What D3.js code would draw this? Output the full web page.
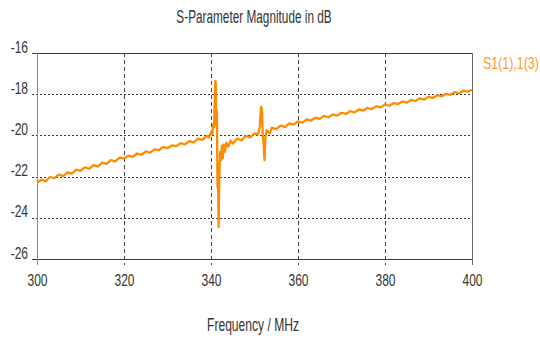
<!DOCTYPE html>
<html>
<head>
<meta charset="utf-8">
<script src="https://cdn.jsdelivr.net/npm/d3@7"></script>
<style>
  html, body { margin: 0; padding: 0; background: #fff; }
  svg { display: block; font-family: "Liberation Sans", Arial, sans-serif; }
</style>
</head>
<body>
<div id="graph"></div>
<script>
// values
var freqs = [300,301,302,303,304,305,306,307,308,309,310,311,312,313,314,315,316,317,318,319,
  320,321,322,323,324,325,326,327,328,329,330,331,332,333,334,335,336,337,338,339,339.5,
  340,340.3,340.5,340.7,340.9,341.0,341.1,341.2,341.35,341.5,341.6,341.75,341.9,342.1,342.3,342.5,342.7,342.9,
  343.2,343.5,344,344.5,345,346,347,348,349,350,350.8,351.2,351.5,351.7,351.9,352.1,352.3,352.5,352.8,
  353.5,354,355,356,357,358,359,360,361,362,363,364,365,366,367,368,369,370,
  371,372,373,374,375,376,377,378,379,380,381,382,383,384,385,386,387,388,389,390,
  391,392,393,394,395,396,397,398,399,400]
var s11 = [-22.30,-22.15,-22.22,-22.02,-22.08,-21.90,-21.98,-21.80,-21.86,-21.66,-21.72,-21.55,-21.62,-21.44,-21.50,-21.32,-21.38,-21.20,-21.26,-21.08,
  -21.12,-20.98,-21.04,-20.88,-20.94,-20.78,-20.84,-20.68,-20.72,-20.56,-20.62,-20.48,-20.52,-20.38,-20.44,-20.28,-20.34,-20.16,-20.22,-20.02,-20.10,
  -19.85,-19.95,-19.45,-19.60,-18.00,-17.35,-17.50,-19.50,-18.80,-22.50,-21.80,-24.45,-22.00,-20.80,-21.20,-20.50,-21.10,-20.45,
  -20.80,-20.35,-20.55,-20.25,-20.40,-20.15,-20.25,-20.02,-20.10,-19.90,-19.95,-19.60,-18.60,-18.75,-20.00,-20.40,-21.20,-20.10,-19.75,
  -19.90,-19.62,-19.70,-19.52,-19.60,-19.42,-19.48,-19.32,-19.38,-19.22,-19.28,-19.14,-19.20,-19.05,-19.12,-18.98,-19.04,-18.90,
  -18.96,-18.82,-18.88,-18.74,-18.80,-18.66,-18.72,-18.58,-18.64,-18.50,-18.56,-18.43,-18.48,-18.35,-18.41,-18.28,-18.33,-18.20,-18.26,-18.13,
  -18.18,-18.05,-18.11,-17.98,-18.03,-17.90,-17.96,-17.83,-17.88,-17.78]
var xTicks = [300,320,340,360,380,400]
var yTicks = [-16,-18,-20,-22,-24,-26]
var seriesName = "S1(1),1(3)"

var w = 540, h = 338
var pl = 37, pr = 472, pt = 53, pb = 259

var x = d3.scaleLinear().domain([300, 400]).range([pl, pr])
var y = d3.scaleLinear().domain([-26, -16]).range([pb, pt])

var svg = d3.select('#graph')
  .append('svg')
  .attr("width", w)
  .attr("height", h)

// text in the reference is tall and narrow, so stretch it vertically
function label(g, tx, ty, str, anchor, sy, size, color) {
  return g.append("text")
    .attr("transform", "translate(" + tx + "," + ty + ") scale(1," + sy + ")")
    .attr("text-anchor", anchor)
    .style("font-size", size + "px")
    .style("fill", color)
    .text(str)
}

// horizontal dotted grid
svg.append("g").selectAll("line")
  .data(yTicks.filter(d => d != -16 && d != -26))
  .enter().append("line")
  .attr("x1", pl - 5).attr("x2", pr)
  .attr("y1", d => Math.round(y(d)) + .5).attr("y2", d => Math.round(y(d)) + .5)
  .style("stroke", "#333")
  .style("stroke-dasharray", "2,2")

// vertical dashed grid
svg.append("g").selectAll("line")
  .data(xTicks.filter(d => d != 300 && d != 400))
  .enter().append("line")
  .attr("x1", d => Math.round(x(d)) + .5).attr("x2", d => Math.round(x(d)) + .5)
  .attr("y1", pt).attr("y2", pb + 6)
  .style("stroke", "#444")
  .style("stroke-dasharray", "4,3")

// frame
svg.append("line").attr("x1", pl - 5).attr("x2", pr + 1).attr("y1", pt + .5).attr("y2", pt + .5)
  .style("stroke", "#3a3a3a")
svg.append("line").attr("x1", pl - 5).attr("x2", pr + 1).attr("y1", pb + .5).attr("y2", pb + .5)
  .style("stroke", "#3a3a3a")
svg.append("line").attr("x1", pl + .5).attr("x2", pl + .5).attr("y1", pt).attr("y2", pb + 6)
  .style("stroke", "#8a8a8a")
svg.append("line").attr("x1", pr + .5).attr("x2", pr + .5).attr("y1", pt).attr("y2", pb + 6)
  .style("stroke", "#6a6a6a")

// data line
var line = d3.line()
  .x((d, i) => x(freqs[i]))
  .y(d => y(d))

svg.append("path")
  .datum(s11)
  .attr("d", line)
  .style("fill", "none")
  .style("stroke", "#ff8c00")
  .style("stroke-width", 2.3)
  .style("stroke-linejoin", "round")

// tick labels
var yl = svg.append("g")
yTicks.forEach(d => label(yl, 28, y(d) - 0.5, d, "end", 1.3, 12, "#333"))
var xl = svg.append("g")
xTicks.forEach(d => label(xl, x(d) + 0.5, 285.5, d, "middle", 1.4, 12, "#333"))

// titles
label(svg, 254, 23, "S-Parameter Magnitude in dB", "middle", 1.5, 11.8, "#333")
label(svg, 253, 331, "Frequency / MHz", "middle", 1.5, 12.1, "#333")

// legend
label(svg, 483, 69, seriesName, "start", 1.35, 12.4, "#ff9a30")
</script>
</body>
</html>
